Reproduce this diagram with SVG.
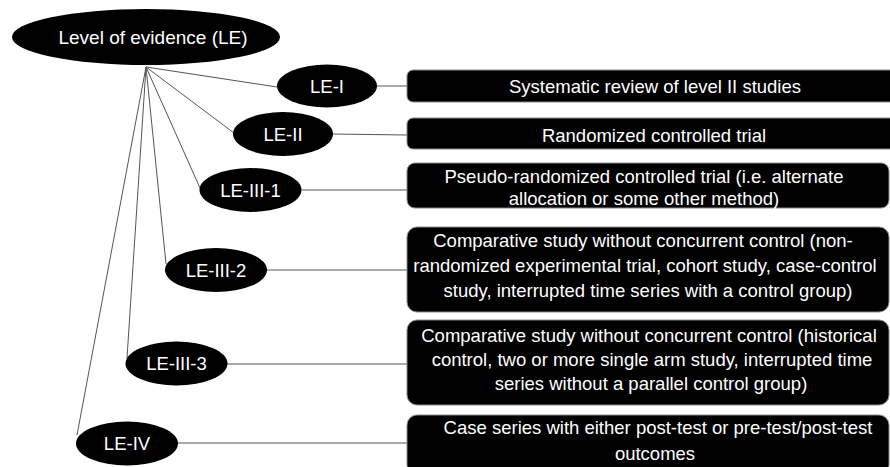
<svg xmlns="http://www.w3.org/2000/svg" width="890" height="467" viewBox="0 0 890 467">
<style>
  .node ellipse { fill: #000; }
  .box rect { fill: #000; stroke: #8a8a8a; stroke-width: 1; }
  text { font-family: "Liberation Sans", Arial, sans-serif; fill: #fff; text-anchor: middle; }
  .lbl { font-size: 18.5px; }
  .root { font-size: 19px; }
  #connectors line { stroke: #555; stroke-width: 1; fill: none; }
</style>
<rect width="890" height="467" fill="#fff"/>
<g id="connectors">
  <line x1="146" y1="67" x2="277" y2="87"/>
  <line x1="146" y1="67" x2="234" y2="133"/>
  <line x1="146" y1="67" x2="200" y2="188"/>
  <line x1="146" y1="67" x2="166" y2="264"/>
  <line x1="146" y1="67" x2="127" y2="358"/>
  <line x1="146" y1="67" x2="77" y2="435"/>
  <line x1="377" y1="86" x2="407" y2="86"/>
  <line x1="333" y1="134" x2="407" y2="135"/>
  <line x1="302" y1="190" x2="407" y2="190"/>
  <line x1="267" y1="270" x2="407" y2="270"/>
  <line x1="227" y1="364" x2="407" y2="364"/>
  <line x1="178" y1="443" x2="407" y2="443"/>
</g>
<g id="root" class="node">
  <ellipse cx="146" cy="37" rx="134" ry="28"/>
  <text class="root" x="153" y="43.5">Level of evidence (LE)</text>
</g>
<g id="le1" class="node">
  <ellipse cx="327" cy="86" rx="50" ry="21.5"/>
  <text class="lbl" x="327" y="92.5">LE-I</text>
</g>
<g id="le2" class="node">
  <ellipse cx="283" cy="134" rx="50" ry="22"/>
  <text class="lbl" x="283" y="140.5">LE-II</text>
</g>
<g id="le3-1" class="node">
  <ellipse cx="250.5" cy="190" rx="51" ry="22"/>
  <text class="lbl" x="250.5" y="196.5">LE-III-1</text>
</g>
<g id="le3-2" class="node">
  <ellipse cx="216" cy="270" rx="51" ry="22"/>
  <text class="lbl" x="216" y="276.5">LE-III-2</text>
</g>
<g id="le3-3" class="node">
  <ellipse cx="176.5" cy="363.5" rx="51" ry="22"/>
  <text class="lbl" x="176.5" y="370">LE-III-3</text>
</g>
<g id="le4" class="node">
  <ellipse cx="127" cy="443.5" rx="51" ry="22"/>
  <text class="lbl" x="127" y="450">LE-IV</text>
</g>
<g id="box1" class="box">
  <rect x="407" y="70" width="490" height="32" rx="6"/>
  <text class="lbl" x="655" y="93">Systematic review of level II studies</text>
</g>
<g id="box2" class="box">
  <rect x="407" y="118" width="490" height="31" rx="6"/>
  <text class="lbl" x="654" y="141.5">Randomized controlled trial</text>
</g>
<g id="box3" class="box">
  <rect x="407" y="163" width="482" height="45" rx="8"/>
  <text class="lbl" x="644" y="183">Pseudo-randomized controlled trial (i.e. alternate</text>
  <text class="lbl" x="644" y="205">allocation or some other method)</text>
</g>
<g id="box4" class="box">
  <rect x="407" y="227" width="482" height="85" rx="10"/>
  <text class="lbl" x="643" y="247">Comparative study without concurrent control (non-</text>
  <text class="lbl" x="645" y="272">randomized experimental trial, cohort study, case-control</text>
  <text class="lbl" x="648" y="297">study, interrupted time series with a control group)</text>
</g>
<g id="box5" class="box">
  <rect x="407" y="320" width="482" height="85" rx="10"/>
  <text class="lbl" x="649" y="342">Comparative study without concurrent control (historical</text>
  <text class="lbl" x="652" y="366">control, two or more single arm study, interrupted time</text>
  <text class="lbl" x="651" y="390">series without a parallel control group)</text>
</g>
<g id="box6" class="box">
  <rect x="407" y="415" width="482" height="60" rx="10"/>
  <text class="lbl" x="658" y="434">Case series with either post-test or pre-test/post-test</text>
  <text class="lbl" x="655" y="460">outcomes</text>
</g>
</svg>
